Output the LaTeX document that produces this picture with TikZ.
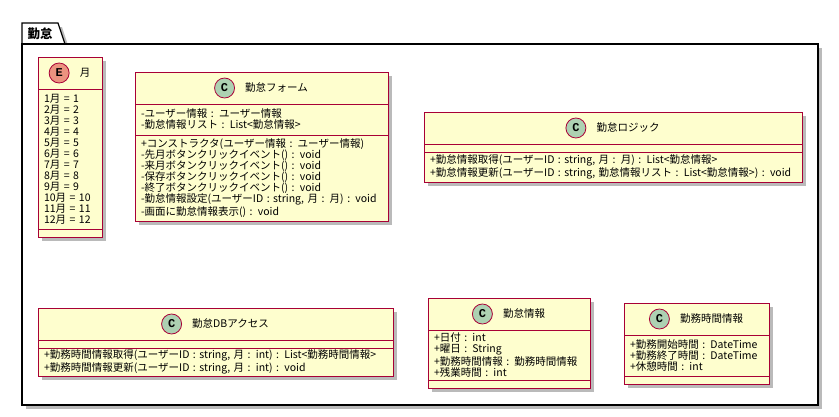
\documentclass[tikz,border=0pt]{standalone}
\usepackage{fontspec}
\setmainfont{Noto Sans CJK JP}
\newfontfamily\spotfont{Liberation Mono}
\usetikzlibrary{positioning,shadows}

\definecolor{umlred}{HTML}{A80036}
\definecolor{umlfill}{HTML}{FEFECE}
\definecolor{spotC}{HTML}{ADD1B2}
\definecolor{spotE}{HTML}{EB937F}

\begin{document}
\begin{tikzpicture}[
    x=1pt, y=-1pt,
    umlshadow/.style={drop shadow={shadow xshift=4pt, shadow yshift=-4pt, opacity=0.45, fill=black!60}},
    pkgbox/.style={rectangle, draw=black, fill=white, line width=1.2pt, outer sep=0pt, anchor=north west, umlshadow},
    head/.style={rectangle, draw=umlred, fill=umlfill, line width=1pt, outer sep=0pt, minimum height=32pt, anchor=north west, umlshadow},
    part/.style={rectangle, draw=umlred, fill=umlfill, line width=1pt, outer sep=0pt, inner xsep=6pt, inner ysep=0pt, align=left, font=\fontsize{10.5}{11}\selectfont, umlshadow},
    emptypart/.style={part, minimum height=8pt},
    title/.style={inner sep=0pt, font=\fontsize{10.5}{11}\selectfont},
    spot/.style={circle, draw=umlred, line width=0.8pt, inner sep=0pt, minimum size=20pt, font=\spotfont\bfseries\fontsize{12}{12}\selectfont}
]
    \useasboundingbox (0,0) rectangle (839,416);

    % package
    \draw[line width=1.2pt, fill=white, umlshadow] (22,44) -- (22,23) -- (58,23) -- (65,44) -- cycle;
    \node[pkgbox, minimum width=796pt, minimum height=361pt] (pkg) at (22,44) {};
    \node[inner sep=0pt, font=\bfseries\fontsize{12.5}{12.5}\selectfont] (pkgname) at (40,33.5) {勤怠};

    % 月
    \node[head, minimum width=64pt] (monthH) at (38,57) {};
    \node[part, text width=52pt, minimum height=140pt, below=0pt of monthH] (monthF)
        {1月 = 1\\2月 = 2\\3月 = 3\\4月 = 4\\5月 = 5\\6月 = 6\\7月 = 7\\8月 = 8\\9月 = 9\\10月 = 10\\11月 = 11\\12月 = 12};
    \node[emptypart, text width=52pt, below=0pt of monthF] (monthM) {};
    \node[title] (monthN) at ([xshift=15pt]monthH.center) {月};
    \node[spot, fill=spotE, left=10pt of monthN] (monthS) {E};

    % 勤怠フォーム
    \node[head, minimum width=253pt] (formH) at (135,72) {};
    \node[part, text width=241pt, minimum height=31pt, below=0pt of formH] (formA)
        {-ユーザー情報 : ユーザー情報\\-勤怠情報リスト : List<勤怠情報>};
    \node[part, text width=241pt, minimum height=86pt, below=0pt of formA] (formM)
        {+コンストラクタ(ユーザー情報 : ユーザー情報)\\
         -先月ボタンクリックイベント() : void\\
         -来月ボタンクリックイベント() : void\\
         -保存ボタンクリックイベント() : void\\
         -終了ボタンクリックイベント() : void\\
         -勤怠情報設定(ユーザーID : string, 月 : 月) : void\\
         -画面に勤怠情報表示() : void};
    \node[title] (formN) at ([xshift=15pt]formH.center) {勤怠フォーム};
    \node[spot, fill=spotC, left=10pt of formN] (formS) {C};

    % 勤怠ロジック
    \node[head, minimum width=378pt] (logicH) at (424,112) {};
    \node[emptypart, text width=366pt, below=0pt of logicH] (logicA) {};
    \node[part, text width=366pt, minimum height=30pt, below=0pt of logicA] (logicM)
        {+勤怠情報取得(ユーザーID : string, 月 : 月) : List<勤怠情報>\\
         +勤怠情報更新(ユーザーID : string, 勤怠情報リスト : List<勤怠情報>) : void};
    \node[title] (logicN) at ([xshift=15pt]logicH.center) {勤怠ロジック};
    \node[spot, fill=spotC, left=10pt of logicN] (logicS) {C};

    % 勤怠DBアクセス
    \node[head, minimum width=355pt] (dbH) at (38,308) {};
    \node[emptypart, text width=343pt, below=0pt of dbH] (dbA) {};
    \node[part, text width=343pt, minimum height=28pt, below=0pt of dbA] (dbM)
        {+勤務時間情報取得(ユーザーID : string, 月 : int) : List<勤務時間情報>\\
         +勤務時間情報更新(ユーザーID : string, 月 : int) : void};
    \node[title] (dbN) at ([xshift=15pt]dbH.center) {勤怠DBアクセス};
    \node[spot, fill=spotC, left=10pt of dbN] (dbS) {C};

    % 勤怠情報
    \node[head, minimum width=162pt] (infoH) at (428,298) {};
    \node[part, text width=150pt, minimum height=50pt, below=0pt of infoH] (infoF)
        {+日付 : int\\+曜日 : String\\+勤務時間情報 : 勤務時間情報\\+残業時間 : int};
    \node[emptypart, text width=150pt, below=0pt of infoF] (infoM) {};
    \node[title] (infoN) at ([xshift=15pt]infoH.center) {勤怠情報};
    \node[spot, fill=spotC, left=10pt of infoN] (infoS) {C};

    % 勤務時間情報
    \node[head, minimum width=145pt] (workH) at (624,303) {};
    \node[part, text width=133pt, minimum height=41pt, below=0pt of workH] (workF)
        {+勤務開始時間 : DateTime\\+勤務終了時間 : DateTime\\+休憩時間 : int};
    \node[emptypart, text width=133pt, below=0pt of workF] (workM) {};
    \node[title] (workN) at ([xshift=15pt]workH.center) {勤務時間情報};
    \node[spot, fill=spotC, left=10pt of workN] (workS) {C};
\end{tikzpicture}
\end{document}
